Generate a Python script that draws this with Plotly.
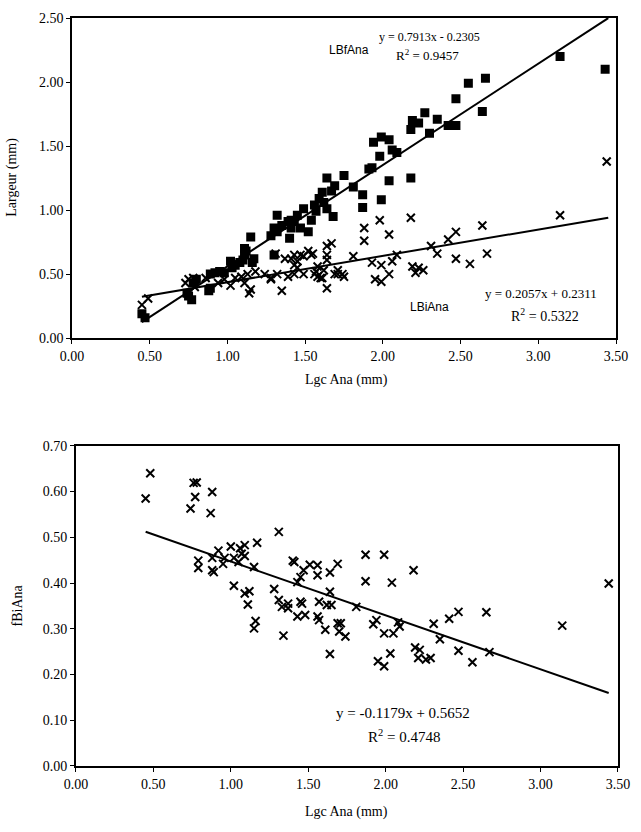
import plotly.graph_objects as go

# ---------------- Data ----------------
# Top chart: LBfAna (filled squares)
lbf_x = [0.45, 0.47, 0.74, 0.75, 0.77, 0.78, 0.80, 0.88, 0.89, 0.89, 0.92, 0.95, 0.98,
         1.02, 1.03, 1.05, 1.08, 1.10, 1.11, 1.12, 1.11, 1.15, 1.17, 1.16, 1.28, 1.30,
         1.30, 1.32, 1.32, 1.35, 1.39, 1.41, 1.40, 1.41, 1.43, 1.45, 1.47, 1.49, 1.52,
         1.54, 1.56, 1.57, 1.59, 1.61, 1.62, 1.64, 1.64, 1.67, 1.68, 1.69, 1.75, 1.81,
         1.87, 1.87, 1.91, 1.93, 1.94, 1.98, 1.99, 1.99, 2.04, 2.04, 2.06, 2.09, 2.18,
         2.18, 2.19, 2.23, 2.27, 2.30, 2.35, 2.42, 2.47, 2.47, 2.55, 2.64, 2.66, 3.14, 3.43]
lbf_y = [0.19, 0.16, 0.35, 0.33, 0.30, 0.43, 0.46, 0.37, 0.39, 0.50, 0.51, 0.52, 0.51,
         0.60, 0.55, 0.57, 0.59, 0.61, 0.70, 0.68, 0.65, 0.79, 0.62, 0.59, 0.80, 0.86,
         0.65, 0.96, 0.83, 0.88, 0.91, 0.92, 0.78, 0.86, 0.91, 0.96, 0.86, 1.01, 0.83,
         0.92, 1.04, 0.99, 1.09, 1.14, 1.06, 1.01, 1.25, 1.15, 0.95, 1.19, 1.27, 1.18,
         1.12, 1.02, 1.32, 1.33, 1.53, 1.42, 1.57, 1.08, 1.55, 1.23, 1.47, 1.45, 1.25,
         1.63, 1.70, 1.68, 1.76, 1.60, 1.71, 1.66, 1.66, 1.87, 1.99, 1.77, 2.03, 2.20, 2.10]

# Top chart: LBiAna (crosses)
lbi_x = [0.45, 0.49, 0.73, 0.75, 0.78, 0.79, 0.86, 0.94, 0.98, 1.02, 1.05, 1.09, 1.11,
         1.13, 1.14, 1.15, 1.18, 1.24, 1.28, 1.28, 1.31, 1.32, 1.35, 1.37, 1.39, 1.41,
         1.43, 1.43, 1.43, 1.45, 1.45, 1.47, 1.49, 1.49, 1.52, 1.54, 1.55, 1.56, 1.57,
         1.58, 1.58, 1.60, 1.61, 1.62, 1.64, 1.64, 1.64, 1.64, 1.67, 1.69, 1.71, 1.71,
         1.74, 1.75, 1.81, 1.88, 1.88, 1.93, 1.95, 1.98, 1.99, 1.99, 2.04, 2.04, 2.06,
         2.09, 2.18, 2.19, 2.21, 2.23, 2.26, 2.31, 2.35, 2.42, 2.47, 2.47, 2.56, 2.64,
         2.67, 3.14, 3.44]
lbi_y = [0.26, 0.31, 0.43, 0.46, 0.47, 0.40, 0.47, 0.43, 0.46, 0.41, 0.47, 0.48, 0.43,
         0.50, 0.35, 0.38, 0.52, 0.50, 0.46, 0.47, 0.66, 0.50, 0.37, 0.62, 0.48, 0.62,
         0.65, 0.50, 0.57, 0.60, 0.55, 0.65, 0.50, 0.64, 0.68, 0.65, 0.66, 0.50, 0.52,
         0.56, 0.48, 0.47, 0.47, 0.53, 0.72, 0.65, 0.61, 0.39, 0.74, 0.50, 0.53, 0.50,
         0.50, 0.48, 0.64, 0.86, 0.76, 0.59, 0.46, 0.92, 0.44, 0.57, 0.81, 0.50, 0.60,
         0.65, 0.94, 0.56, 0.51, 0.55, 0.53, 0.72, 0.66, 0.77, 0.83, 0.62, 0.58, 0.88,
         0.66, 0.96, 1.38]

# Bottom chart: fBiAna (crosses)
fbi_x = [0.45, 0.48, 0.74, 0.76, 0.77, 0.78, 0.87, 0.88, 0.79, 0.79, 0.88, 0.89, 0.88,
         0.92, 0.95, 0.96, 1.00, 1.02, 1.02, 1.05, 1.06, 1.07, 1.09, 1.09, 1.09, 1.12,
         1.11, 1.15, 1.16, 1.17, 1.15, 1.28, 1.31, 1.31, 1.33, 1.34, 1.37, 1.37, 1.40,
         1.41, 1.43, 1.43, 1.45, 1.45, 1.46, 1.47, 1.48, 1.51, 1.56, 1.56, 1.56, 1.57,
         1.57, 1.61, 1.62, 1.64, 1.64, 1.64, 1.65, 1.69, 1.69, 1.70, 1.71, 1.74, 1.81,
         1.87, 1.87, 1.92, 1.94, 1.95, 1.99, 1.99, 1.99, 2.03, 2.04, 2.05, 2.08, 2.09,
         2.18, 2.19, 2.21, 2.22, 2.26, 2.29, 2.31, 2.35, 2.41, 2.47, 2.47, 2.56, 2.65,
         2.67, 3.14, 3.44]
fbi_y = [0.585, 0.640, 0.563, 0.619, 0.588, 0.620, 0.553, 0.599, 0.449, 0.433, 0.428,
         0.424, 0.455, 0.471, 0.442, 0.455, 0.480, 0.455, 0.394, 0.446, 0.476, 0.464,
         0.483, 0.459, 0.377, 0.382, 0.353, 0.435, 0.317, 0.488, 0.301, 0.387, 0.512,
         0.363, 0.348, 0.285, 0.355, 0.345, 0.449, 0.446, 0.402, 0.327, 0.413, 0.359,
         0.355, 0.428, 0.330, 0.440, 0.439, 0.417, 0.327, 0.359, 0.319, 0.298, 0.352,
         0.423, 0.381, 0.245, 0.352, 0.442, 0.312, 0.294, 0.312, 0.283, 0.348, 0.462,
         0.404, 0.310, 0.319, 0.229, 0.462, 0.218, 0.290, 0.246, 0.401, 0.290, 0.314,
         0.305, 0.428, 0.259, 0.236, 0.254, 0.233, 0.236, 0.311, 0.277, 0.322, 0.337,
         0.252, 0.227, 0.336, 0.249, 0.307, 0.399]

# Linear trend lines (slope, intercept, x-extent) as printed on the chart
fit_lbf = dict(slope=0.7913, intercept=-0.2305, x=[0.45, 3.45])
fit_lbi = dict(slope=0.2057, intercept=0.2311, x=[0.45, 3.45])
fit_fbi = dict(slope=-0.1179, intercept=0.5652, x=[0.45, 3.44])

x_ticks = [0.0, 0.5, 1.0, 1.5, 2.0, 2.5, 3.0, 3.5]
y_ticks_top = [0.0, 0.5, 1.0, 1.5, 2.0, 2.5]
y_ticks_bot = [0.0, 0.1, 0.2, 0.3, 0.4, 0.5, 0.6, 0.7]


def line_pts(fit):
    return fit["x"], [fit["slope"] * v + fit["intercept"] for v in fit["x"]]


SERIF = "Liberation Serif"
SANS = "Liberation Sans"

cross = dict(symbol="x-thin", size=8, line=dict(width=2, color="black"))

fig = go.Figure()

fig.add_trace(go.Scatter(x=lbf_x, y=lbf_y, mode="markers", name="LBfAna",
                         marker=dict(symbol="square", size=9, color="black"),
                         xaxis="x", yaxis="y"))
fig.add_trace(go.Scatter(x=lbi_x, y=lbi_y, mode="markers", name="LBiAna",
                         marker=cross, xaxis="x", yaxis="y"))
lx, ly = line_pts(fit_lbf)
fig.add_trace(go.Scatter(x=lx, y=ly, mode="lines", name="fit LBfAna",
                         line=dict(color="black", width=2), xaxis="x", yaxis="y"))
lx, ly = line_pts(fit_lbi)
fig.add_trace(go.Scatter(x=lx, y=ly, mode="lines", name="fit LBiAna",
                         line=dict(color="black", width=2), xaxis="x", yaxis="y"))

fig.add_trace(go.Scatter(x=fbi_x, y=fbi_y, mode="markers", name="fBiAna",
                         marker=cross, xaxis="x2", yaxis="y2"))
lx, ly = line_pts(fit_fbi)
fig.add_trace(go.Scatter(x=lx, y=ly, mode="lines", name="fit fBiAna",
                         line=dict(color="black", width=2), xaxis="x2", yaxis="y2"))

axis_common = dict(showline=True, linecolor="black", linewidth=1.5, mirror=True,
                   ticks="outside", ticklen=4, tickcolor="black", tickwidth=1,
                   showgrid=False, zeroline=False, tickformat=".2f",
                   tickfont=dict(family=SERIF, size=14, color="black"))

fig.update_layout(
    width=641, height=832,
    margin=dict(l=70, r=17, t=11, b=66),
    paper_bgcolor="white", plot_bgcolor="white",
    showlegend=False,
    xaxis=dict(axis_common, domain=[0.0036, 0.9964], range=[0, 3.5],
               tickvals=x_ticks, anchor="y"),
    yaxis=dict(axis_common, domain=[0.572, 1.0], range=[0, 2.5],
               tickvals=y_ticks_top, anchor="x"),
    xaxis2=dict(axis_common, domain=[0.0108, 1.0], range=[0, 3.5],
                tickvals=x_ticks, anchor="y2"),
    yaxis2=dict(axis_common, domain=[0.0, 0.428], range=[0, 0.7],
                tickvals=y_ticks_bot, anchor="x2"),
)

serif_font = dict(family=SERIF, size=14, color="black")
sans_font = dict(family=SANS, size=12, color="black")


def f(size):
    return dict(family=SERIF, size=size, color="black")


ann = [
    # top chart
    dict(x=1.78, y=2.25, xref="x", yref="y", text="LBfAna", font=sans_font),
    dict(x=2.30, y=2.35, xref="x", yref="y", text="y = 0.7913x - 0.2305", font=f(12)),
    dict(x=2.29, y=2.21, xref="x", yref="y", text="R<sup>2</sup> = 0.9457", font=f(13)),
    dict(x=2.30, y=0.24, xref="x", yref="y", text="LBiAna", font=sans_font),
    dict(x=3.02, y=0.35, xref="x", yref="y", text="y = 0.2057x + 0.2311", font=f(13)),
    dict(x=3.04, y=0.18, xref="x", yref="y", text="R<sup>2</sup> = 0.5322", font=f(14)),
    # bottom chart
    dict(x=2.11, y=0.116, xref="x2", yref="y2", text="y = -0.1179x + 0.5652", font=f(15)),
    dict(x=2.12, y=0.066, xref="x2", yref="y2", text="R<sup>2</sup> = 0.4748", font=f(15)),
    # axis titles
    dict(x=0.505, y=0.516, xref="paper", yref="paper", text="Lgc Ana (mm)", font=serif_font),
    dict(x=0.505, y=-0.062, xref="paper", yref="paper", text="Lgc Ana (mm)", font=serif_font),
    dict(x=-0.105, y=0.787, xref="paper", yref="paper", text="Largeur (mm)",
         font=serif_font, textangle=-90),
    dict(x=-0.095, y=0.2146, xref="paper", yref="paper", text="fBiAna",
         font=serif_font, textangle=-90),
]
for a in ann:
    a.update(showarrow=False, xanchor="center", yanchor="middle")
fig.update_layout(annotations=ann)

fig.write_html("out.html")
